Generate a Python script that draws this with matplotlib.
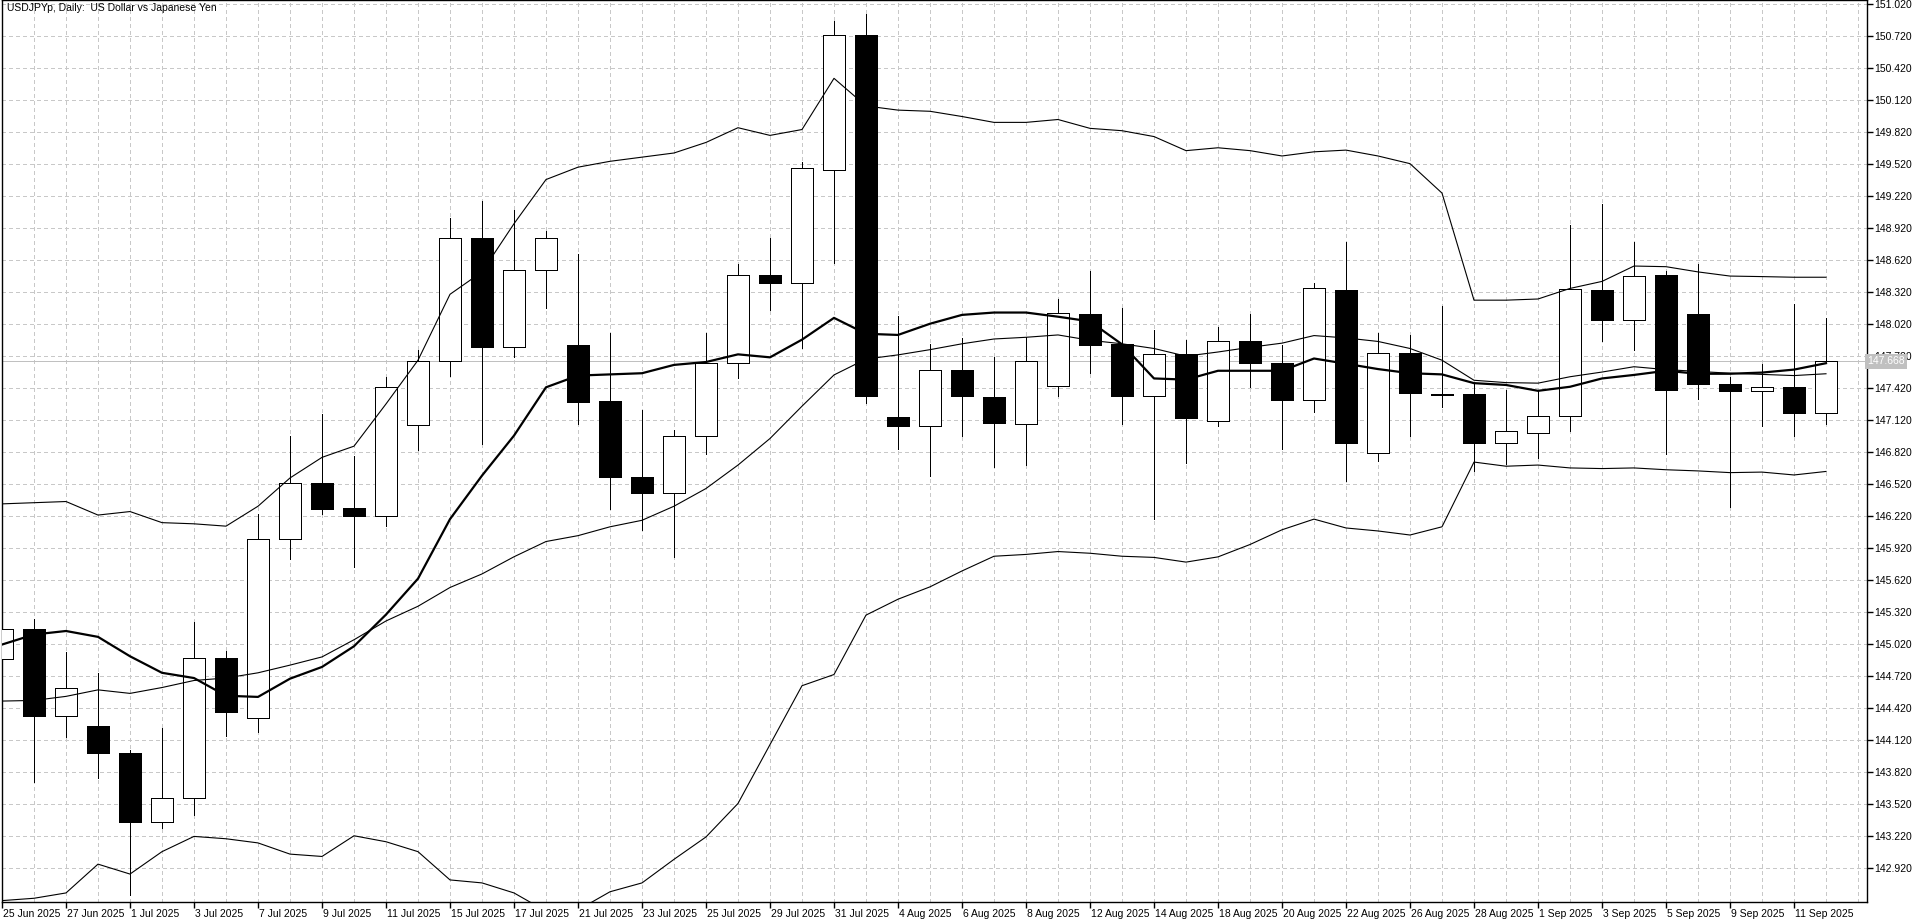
import numpy as np
import matplotlib
matplotlib.use('Agg')
import matplotlib.pyplot as plt
import matplotlib.transforms as mtransforms
from matplotlib.patches import Rectangle

# dates of the daily bars (trading days)
dates = ['25 Jun 2025', '26 Jun 2025', '27 Jun 2025', '30 Jun 2025', '1 Jul 2025', '2 Jul 2025',
         '3 Jul 2025', '4 Jul 2025', '7 Jul 2025', '8 Jul 2025', '9 Jul 2025', '10 Jul 2025',
         '11 Jul 2025', '14 Jul 2025', '15 Jul 2025', '16 Jul 2025', '17 Jul 2025', '18 Jul 2025',
         '21 Jul 2025', '22 Jul 2025', '23 Jul 2025', '24 Jul 2025', '25 Jul 2025', '28 Jul 2025',
         '29 Jul 2025', '30 Jul 2025', '31 Jul 2025', '1 Aug 2025', '4 Aug 2025', '5 Aug 2025',
         '6 Aug 2025', '7 Aug 2025', '8 Aug 2025', '11 Aug 2025', '12 Aug 2025', '13 Aug 2025',
         '14 Aug 2025', '15 Aug 2025', '18 Aug 2025', '19 Aug 2025', '20 Aug 2025', '21 Aug 2025',
         '22 Aug 2025', '25 Aug 2025', '26 Aug 2025', '27 Aug 2025', '28 Aug 2025', '29 Aug 2025',
         '1 Sep 2025', '2 Sep 2025', '3 Sep 2025', '4 Sep 2025', '5 Sep 2025', '8 Sep 2025',
         '9 Sep 2025', '10 Sep 2025', '11 Sep 2025', '12 Sep 2025']

opens = [144.876, 145.163, 144.341, 144.247, 143.993, 143.347, 143.574, 144.887, 144.324, 146.002,
         146.526, 146.295, 146.223, 147.073, 147.674, 148.822, 147.801, 148.530, 147.823, 147.299,
         146.587, 146.438, 146.968, 147.652, 148.480, 148.408, 149.468, 150.726, 147.150, 147.062,
         147.592, 147.338, 147.084, 147.437, 148.116, 147.829, 147.349, 147.741, 147.106, 147.862,
         147.652, 147.310, 148.342, 146.808, 147.746, 147.365, 147.365, 146.902, 146.996, 147.155,
         148.337, 148.055, 148.480, 148.116, 147.454, 147.388, 147.432, 147.189]
highs = [145.220, 145.251, 144.942, 144.749, 144.021, 144.231, 145.229, 144.953, 146.239, 146.973,
         147.172, 146.780, 147.525, 147.774, 149.015, 149.175, 149.087, 148.894, 148.673, 147.939,
         147.211, 147.023, 147.934, 148.585, 148.822, 149.540, 150.859, 150.925, 148.094, 147.829,
         147.884, 147.713, 147.895, 148.254, 148.519, 148.171, 147.961, 147.873, 147.994, 148.116,
         147.818, 148.403, 148.784, 147.934, 147.912, 148.193, 147.470, 147.404, 147.388, 148.949,
         149.148, 148.784, 148.519, 148.585, 147.525, 147.647, 148.204, 148.077]
lows = [144.800, 143.728, 144.148, 143.761, 142.663, 143.292, 143.414, 144.159, 144.197, 145.814,
        146.234, 145.737, 146.129, 146.836, 147.536, 146.891, 147.707, 148.171, 147.084, 146.284,
        146.090, 145.831, 146.797, 147.509, 148.149, 147.790, 148.590, 147.277, 146.852, 146.598,
        146.968, 146.675, 146.697, 147.343, 147.558, 147.084, 146.190, 146.714, 147.067, 147.432,
        146.847, 147.194, 146.543, 146.736, 146.973, 147.238, 146.642, 146.709, 146.764, 147.018,
        147.862, 147.774, 146.802, 147.321, 146.300, 147.067, 146.973, 147.078]
closes = [145.163, 144.341, 144.611, 143.993, 143.347, 143.579, 144.887, 144.385, 146.002, 146.526,
          146.289, 146.217, 147.426, 147.674, 148.822, 147.801, 148.530, 148.822, 147.288, 146.582,
          146.433, 146.973, 147.652, 148.475, 148.408, 149.479, 150.726, 147.349, 147.067, 147.586,
          147.343, 147.089, 147.669, 148.127, 147.818, 147.349, 147.741, 147.139, 147.862, 147.652,
          147.305, 148.353, 146.907, 147.752, 147.371, 147.355, 146.902, 147.012, 147.155, 148.348,
          148.055, 148.469, 147.398, 147.454, 147.388, 147.432, 147.189, 147.668]

# moving average (thick line)
ma_fast = [145.014, 145.108, 145.141, 145.086, 144.904, 144.749, 144.700, 144.534, 144.523, 144.694,
           144.804, 144.998, 145.295, 145.632, 146.190, 146.598, 146.973, 147.426, 147.536, 147.547,
           147.558, 147.636, 147.663, 147.735, 147.707, 147.873, 148.077, 147.928, 147.917, 148.022,
           148.105, 148.127, 148.127, 148.088, 148.044, 147.829, 147.509, 147.498, 147.581, 147.581,
           147.581, 147.696, 147.647, 147.597, 147.558, 147.547, 147.465, 147.448, 147.393, 147.431,
           147.509, 147.542, 147.581, 147.553, 147.553, 147.564, 147.592, 147.652]

# bollinger bands
bb_upper = [146.333, 146.344, 146.355, 146.228, 146.261, 146.157, 146.146, 146.124, 146.311, 146.576,
            146.769, 146.874, 147.270, 147.680, 148.298, 148.508, 148.960, 149.374, 149.490, 149.545,
            149.584, 149.623, 149.722, 149.860, 149.788, 149.843, 150.323, 150.064, 150.025, 150.014,
            149.965, 149.910, 149.910, 149.937, 149.854, 149.832, 149.777, 149.645, 149.672, 149.645,
            149.595, 149.634, 149.650, 149.595, 149.523, 149.247, 148.243, 148.243, 148.254, 148.353,
            148.419, 148.563, 148.557, 148.508, 148.469, 148.464, 148.458, 148.458]
bb_mid = [144.484, 144.490, 144.528, 144.589, 144.556, 144.611, 144.677, 144.700, 144.749, 144.821,
          144.898, 145.059, 145.235, 145.373, 145.549, 145.676, 145.837, 145.980, 146.035, 146.118,
          146.179, 146.311, 146.477, 146.697, 146.946, 147.249, 147.542, 147.691, 147.730, 147.779,
          147.834, 147.879, 147.895, 147.917, 147.867, 147.834, 147.790, 147.718, 147.757, 147.801,
          147.840, 147.911, 147.889, 147.856, 147.790, 147.680, 147.492, 147.470, 147.465, 147.525,
          147.569, 147.619, 147.592, 147.575, 147.558, 147.547, 147.536, 147.553]
bb_lower = [142.613, 142.635, 142.685, 142.955, 142.862, 143.072, 143.215, 143.193, 143.154, 143.049,
            143.027, 143.221, 143.165, 143.072, 142.807, 142.779, 142.685, 142.514, 142.525, 142.696,
            142.779, 143.000, 143.210, 143.524, 144.076, 144.628, 144.733, 145.290, 145.439, 145.555,
            145.704, 145.842, 145.859, 145.886, 145.870, 145.842, 145.831, 145.787, 145.836, 145.952,
            146.090, 146.190, 146.107, 146.079, 146.041, 146.118, 146.725, 146.686, 146.697, 146.670,
            146.664, 146.670, 146.653, 146.642, 146.626, 146.631, 146.604, 146.637]

bid = 147.668
price_ticks = [142.92 + 0.3 * k for k in range(28)]

plt.rcParams['font.family'] = ['Liberation Sans', 'DejaVu Sans']
W, H = 1920, 923
fig = plt.figure(figsize=(W / 100, H / 100), dpi=100, facecolor='white')
# plot area in pixels: x 2..1867, y 0..902
ax = fig.add_axes([2 / W, (H - 902) / H, (1867 - 2) / W, 902 / H])
ax.set_facecolor('white')

x = np.arange(len(dates))
ax.set_xlim(0, (1867 - 2) / 32)
ax.set_ylim(142.600, 151.0575)

# grid: every bar vertically, every 0.3 horizontally
for gx in range(1, 59):
    ax.axvline(gx, color='#c8c8c8', lw=0.72, dashes=(4, 3), zorder=0, antialiased=False)
for gy in price_ticks:
    ax.axhline(gy, color='#c8c8c8', lw=0.72, dashes=(4, 3), zorder=0, antialiased=False)

# bid line
ax.axhline(bid, color='#c0c0c0', lw=0.72, zorder=1, antialiased=False)

# candles
bw = 0.68
for i in x:
    o, h, l, c = opens[i], highs[i], lows[i], closes[i]
    ax.plot([i, i], [l, h], color='black', lw=0.72, zorder=2, solid_capstyle='butt', antialiased=False)
    bottom = min(o, c)
    height = max(abs(c - o), 0.004)
    face = 'white' if c > o else 'black'
    ax.add_patch(Rectangle((i - bw / 2, bottom), bw, height, facecolor=face,
                           edgecolor='black', lw=0.72, zorder=3, antialiased=False))

# indicators on top
ax.plot(x, bb_upper, color='black', lw=0.8, zorder=4)
ax.plot(x, bb_mid, color='black', lw=0.8, zorder=4)
ax.plot(x, bb_lower, color='black', lw=0.8, zorder=4)
ax.plot(x, ma_fast, color='black', lw=1.6, zorder=5)

for s in ax.spines.values():
    s.set_color('black')
    s.set_linewidth(1.0)

# price scale on the right
ax.yaxis.tick_right()
ax.set_yticks(price_ticks)
ax.set_yticklabels([f'{p:.3f}' for p in price_ticks])
ax.tick_params(axis='y', direction='out', length=4, width=1, labelsize=7.5, pad=1, colors='black')

# date labels every second bar
xt = list(range(0, len(dates), 2))
ax.set_xticks(xt)
ax.set_xticklabels([dates[i] for i in xt])
ax.tick_params(axis='x', direction='out', length=4, width=1, labelsize=7.5, pad=1, colors='black')
for lab in ax.get_xticklabels():
    lab.set_horizontalalignment('left')
    lab.set_transform(lab.get_transform() + mtransforms.ScaledTranslation(1 / 100, 0, fig.dpi_scale_trans))

# current price box (covers the 147.720 label as in the terminal)
tr = mtransforms.blended_transform_factory(ax.transAxes, ax.transData)
ax.text(1.0, bid, '147.668', transform=tr, ha='left', va='center', fontsize=7.5, color='white',
        bbox=dict(facecolor='#c0c0c0', edgecolor='none', pad=1.5), zorder=10, clip_on=False)

# chart title
fig.text(7 / W, 1 - 8 / H, 'USDJPYp, Daily:  US Dollar vs Japanese Yen', fontsize=7.5,
         ha='left', va='center', color='black')

fig.savefig('out.png', dpi=100, facecolor='white')
